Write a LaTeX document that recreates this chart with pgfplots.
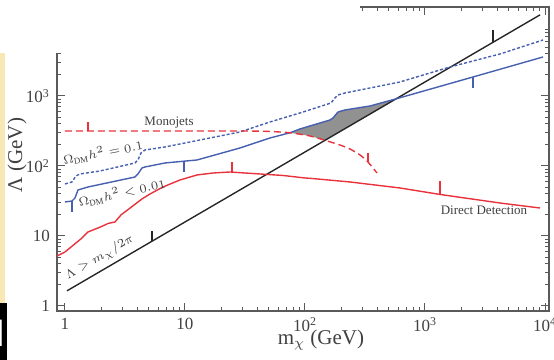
\documentclass[border=0pt]{standalone}
\usepackage{fontspec}
\setmainfont{Liberation Serif}
\usepackage{pgfplots}
\pgfplotsset{compat=1.18}
\definecolor{dmblue}{RGB}{70,95,175}
\definecolor{dmred}{RGB}{232,50,60}
\definecolor{dmgray}{RGB}{145,145,145}
\definecolor{framegray}{RGB}{90,90,90}
\definecolor{scanyellow}{RGB}{250,232,180}
\begin{document}
\begin{tikzpicture}
\begin{axis}[
  at={(28.5pt,24.5pt)}, anchor=south west,
  scale only axis, width=246pt, height=152pt,
  xmode=log, ymode=log,
  xmin=0.858, xmax=10798, ymin=0.848, ymax=18670,
  axis line style={framegray, line width=0.6pt},
  tick style={framegray, line width=0.5pt},
  major tick length=4pt, minor tick length=2pt,
  xtick={1,10,100,1000,10000},
  xticklabels={1,10,10\textsuperscript{2},10\textsuperscript{3},10\textsuperscript{4}},
  minor xtick={2,3,4,5,6,7,8,9,20,30,40,50,60,70,80,90,200,300,400,500,600,700,800,900,2000,3000,4000,5000,6000,7000,8000,9000},
  ytick={1,10,100,1000},
  yticklabels={1,10,10\textsuperscript{2},10\textsuperscript{3}},
  minor ytick={2,3,4,5,6,7,8,9,20,30,40,50,60,70,80,90,200,300,400,500,600,700,800,900,2000,3000,4000,5000,6000,7000,8000,9000},
  ticklabel style={font=\fontsize{8.5}{9}\selectfont, text=black!75},
  every axis plot/.append style={line join=round},
]
% shaded region
\addplot[fill=dmgray, draw=none] coordinates {
(75,298) (90.8,337.8) (161.6,454) (171.1,485) (188.4,590.8) (215.4,631) (348.1,719.7) (574,910) (146.8,232.7) (110.1,268.3)} -- cycle;
% Lambda > m/2pi
\addplot[black!85, line width=0.7pt] coordinates {(1.04,1.648) (9100,14424)};
\addplot[black!85, line width=0.7pt] coordinates {(5.31,8.42) (5.31,11.8)};
\addplot[black!85, line width=0.7pt] coordinates {(3687,5844) (3687,8770)};
% Omega h^2 = 0.1
\addplot[dmblue, line width=0.7pt, dash pattern=on 1.5pt off 1pt] coordinates {
(1.00,55.3) (1.144,59.1) (1.235,72.0) (1.334,76.9) (1.957,84.8) (3.831,110.4) (4.058,121.8) (4.299,153.4) (4.642,169.3) (6.813,186.8) (13.34,235.2) (28.73,306.2) (51.1,425.4) (90.8,571.5) (164.8,794.3) (174.5,906.0) (188.4,1033) (215.4,1104) (618.9,1585) (1616,2596) (4217,3981) (9624,6310)};
% Omega h^2 < 0.01
\addplot[dmblue, line width=0.7pt] coordinates {
(1.00,30.6) (1.144,31.6) (1.212,34.9) (1.283,45.4) (1.555,50.1) (3.831,69.6) (4.058,76.9) (4.382,93.6) (4.642,96.8) (6.813,110.4) (12.59,121.8) (28.73,180.8) (51.1,251.2) (75,298) (90.8,337.8) (161.6,454) (171.1,485) (188.4,590.8) (215.4,631) (348.1,719.7) (574,910) (2512,1868) (9624,3607)};
\addplot[dmblue, line width=0.7pt] coordinates {(1.144,31.6) (1.144,22.0)};
\addplot[dmblue, line width=0.7pt] coordinates {(9.81,116.5) (9.81,82.1)};
\addplot[dmblue, line width=0.7pt] coordinates {(2512,1868) (2512,1301)};
% Monojets
\addplot[dmred, line width=0.7pt, dash pattern=on 3.5pt off 2pt, smooth, tension=0.4] coordinates {
(1.0,316.2) (28.73,316.2) (51.1,311.0) (75,298) (110.1,268.3) (146.8,232.7) (195.7,199.5) (237.1,174.9) (287.3,143.6) (335.0,114.0) (398.1,79.4)};
\addplot[dmred, line width=0.7pt] coordinates {(1.555,316.2) (1.555,425.4)};
\addplot[dmred, line width=0.7pt] coordinates {(335,114) (335,153.4)};
% Direct detection
\addplot[dmred, line width=0.7pt] coordinates {
(0.858,5.18) (1.0,5.91) (1.386,9.36) (1.555,11.41) (1.884,13.0) (2.154,14.36) (2.282,15.09) (2.610,15.85) (2.93,20.0) (4.382,33.8) (5.109,39.8) (6.556,50.1) (9.08,63.1) (12.59,74.4) (17.11,79.4) (23.71,82.1) (31.62,79.4) (65.6,73.2) (100,67.4) (114.4,66.3) (237.1,59.1) (618.9,48.5) (1334,39.2) (4217,29.6) (9084,25.1)};
\addplot[dmred, line width=0.7pt] coordinates {(24.64,82.1) (24.64,114)};
\addplot[dmred, line width=0.7pt] coordinates {(1334,39.2) (1334,61.1)};
% labels
\node[font=\fontsize{6.5}{7}\selectfont, text=black!75] at (axis cs:7.36,411) {Monojets};
\node[font=\fontsize{6.3}{7}\selectfont, text=black!75, rotate=11, inner sep=0pt] at (axis cs:2.073,156) {$\Omega_{\rm DM}h^2 = 0.1$};
\node[font=\fontsize{6.3}{7}\selectfont, text=black!75, rotate=12.5, inner sep=0pt] at (axis cs:2.98,41.5) {$\Omega_{\rm DM}h^2 < 0.01$};
\node[font=\fontsize{6.5}{7}\selectfont, text=black!75] at (axis cs:3102,23.5) {Direct Detection};
\node[font=\fontsize{6.3}{7}\selectfont, text=black!75, rotate=30, inner sep=0pt] at (axis cs:1.957,4.9) {$\Lambda > m_\chi/2\pi$};
\end{axis}
% axis titles
\node[font=\fontsize{10.5}{12}\selectfont, text=black!75] at (160.5pt,10pt) {m$_\chi$ (GeV)};
\node[font=\fontsize{10.5}{12}\selectfont, text=black!75, rotate=90] at (8.5pt,102.5pt) {Λ (GeV)};
% scan artefacts of the reference image
\fill[white] (0pt,153.5pt) rectangle (180pt,182pt);
\fill[scanyellow] (0pt,28.5pt) rectangle (2.5pt,153.5pt);
\fill[black] (0pt,0pt) rectangle (3.5pt,28.5pt);
\begin{scope}
\clip (0pt,0pt) rectangle (3.5pt,28.5pt);
\node[font=\sffamily\fontsize{19}{20}\selectfont, text=white, anchor=east, inner sep=0pt] at (3.2pt,13.5pt) {M};
\end{scope}
\pgfresetboundingbox
\path[use as bounding box] (0pt,0pt) rectangle (277pt,180pt);
\end{tikzpicture}
\end{document}
